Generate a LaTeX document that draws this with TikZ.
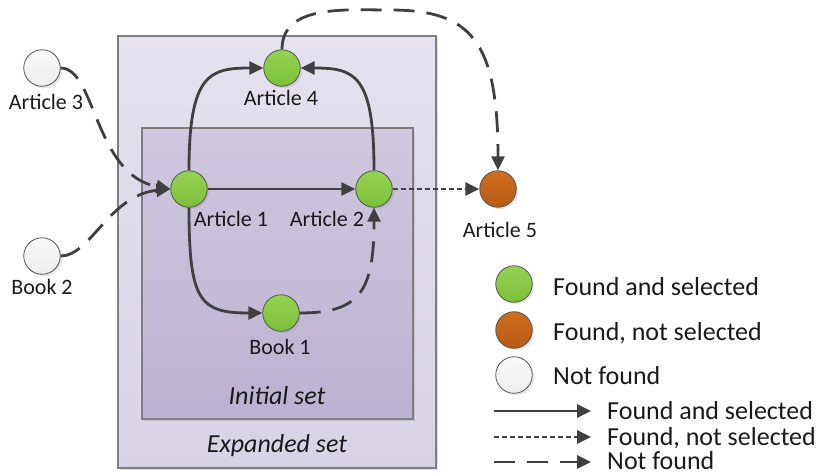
\documentclass[tikz,border=0pt]{standalone}
\usepackage{fontspec}
\setmainfont{Carlito}
\usetikzlibrary{arrows.meta,shadows}

\definecolor{linegray}{HTML}{404040}
\definecolor{rimgray}{HTML}{555555}
\definecolor{boxrim}{HTML}{7F7F7F}
\definecolor{outertop}{HTML}{E5E1EE}
\definecolor{outerbot}{HTML}{D8D2E5}
\definecolor{innertop}{HTML}{CFC8DE}
\definecolor{innerbot}{HTML}{BCB1D0}
\definecolor{greentop}{HTML}{94D352}
\definecolor{greenbot}{HTML}{7DBF3B}
\definecolor{orangetop}{HTML}{D06E1E}
\definecolor{orangebot}{HTML}{B95A15}
\definecolor{whitetop}{HTML}{FAFAFA}
\definecolor{whitebot}{HTML}{EDEDED}
\definecolor{inkcol}{HTML}{1A1A1A}

\begin{document}
\begin{tikzpicture}[x=1pt,y=-1pt,
  every node/.style={inner sep=0pt, text=inkcol},
  lbl/.style={font=\fontsize{22}{26}\selectfont},
  bigtxt/.style={font=\fontsize{26}{30}\selectfont, anchor=base west},
  settxt/.style={font=\fontsize{26}{30}\selectfont\itshape},
  setbox/.style={rectangle, draw=boxrim, line width=1.2pt,
    drop shadow={opacity=0.25, shadow xshift=1.5pt, shadow yshift=-1.5pt}},
  outerset/.style={setbox, top color=outertop, bottom color=outerbot},
  innerset/.style={setbox, top color=innertop, bottom color=innerbot},
  doc/.style={circle, minimum size=36.5pt, draw=rimgray, line width=0.8pt,
    drop shadow={opacity=0.2, shadow xshift=2pt, shadow yshift=-2pt}},
  selected/.style={doc, top color=greentop, bottom color=greenbot},
  rejected/.style={doc, top color=orangetop, bottom color=orangebot},
  missing/.style={doc, top color=whitetop, bottom color=whitebot},
  link/.style={draw=linegray, line width=2.8pt,
    -{Triangle[length=14pt,width=13pt]}},
  found/.style={link},
  notsel/.style={link, dash pattern=on 5pt off 3pt},
  notfound/.style={link, dash pattern=on 21pt off 12pt},
]
\useasboundingbox (0,0) rectangle (819,475);

% the two sets
\node[outerset, minimum width=318pt, minimum height=432pt] (expanded) at (277,252) {};
\node[innerset, minimum width=271pt, minimum height=291pt] (initial) at (277.5,273.5) {};
\node[settxt] (initialtxt) at (277,396) {Initial set};
\node[settxt] (expandedtxt) at (277,446) {Expanded set};

% documents
\node[selected] (a1) at (189,189) {};
\node[selected] (a2) at (374,189) {};
\node[selected] (a4) at (282,68) {};
\node[selected] (b1) at (281,313) {};
\node[missing]  (a3) at (42,68) {};
\node[missing]  (b2) at (42,256) {};
\node[rejected] (a5) at (498,189) {};

\node[lbl] (a1l) at (231,219) {Article 1};
\node[lbl] (a2l) at (327,219) {Article 2};
\node[lbl] (a4l) at (281,98) {Article 4};
\node[lbl] (b1l) at (280,347) {Book 1};
\node[lbl] (a3l) at (46,102) {Article 3};
\node[lbl] (b2l) at (42,287) {Book 2};
\node[lbl] (a5l) at (500,230) {Article 5};

% citations
\draw[found] (a1) -- (a2);
\draw[found] (a1.north) .. controls +(0,-96) and +(-54,0) .. (a4.west);
\draw[found] (a2.north) .. controls +(0,-96) and +(54,0) .. (a4.east);
\draw[found] (a1.south) .. controls +(0,93) and +(-63,0) .. (b1.west);
\draw[notfound] (b1.east) .. controls +(61,0) and +(0,83) .. (a2.south);
\draw[notfound] (a3.east) .. controls +(35,0) and +(-76,-14) .. (a1.west);
\draw[notfound] (b2.east) .. controls +(30,0) and +(-61,6) .. (a1.west);
\draw[notsel] (a2) -- (a5);
\coordinate (arctop) at (390,10);
\draw[notfound] (a4.north) .. controls +(0,-45) and +(-45,0) .. (arctop)
  .. controls +(80,0) and +(0,-131) .. (a5.north);

% legend: documents
\node[selected] (k1) at (514,284) {};
\node[rejected] (k2) at (514,330) {};
\node[missing]  (k3) at (514,375) {};
\node[bigtxt] (k1t) at (553,295) {Found and selected};
\node[bigtxt] (k2t) at (553,340) {Found, not selected};
\node[bigtxt] (k3t) at (553,384) {Not found};

% legend: citations
\coordinate (s1) at (494,411); \coordinate (e1) at (591,411);
\coordinate (s2) at (494,437); \coordinate (e2) at (591,437);
\coordinate (s3) at (494,462); \coordinate (e3) at (591,462);
\draw[found] (s1) -- (e1);
\draw[notsel] (s2) -- (e2);
\draw[notfound] (s3) -- (e3);
\node[bigtxt] (f1t) at (607,419) {Found and selected};
\node[bigtxt] (f2t) at (607,445) {Found, not selected};
\node[bigtxt] (f3t) at (607,469) {Not found};
\end{tikzpicture}
\end{document}
